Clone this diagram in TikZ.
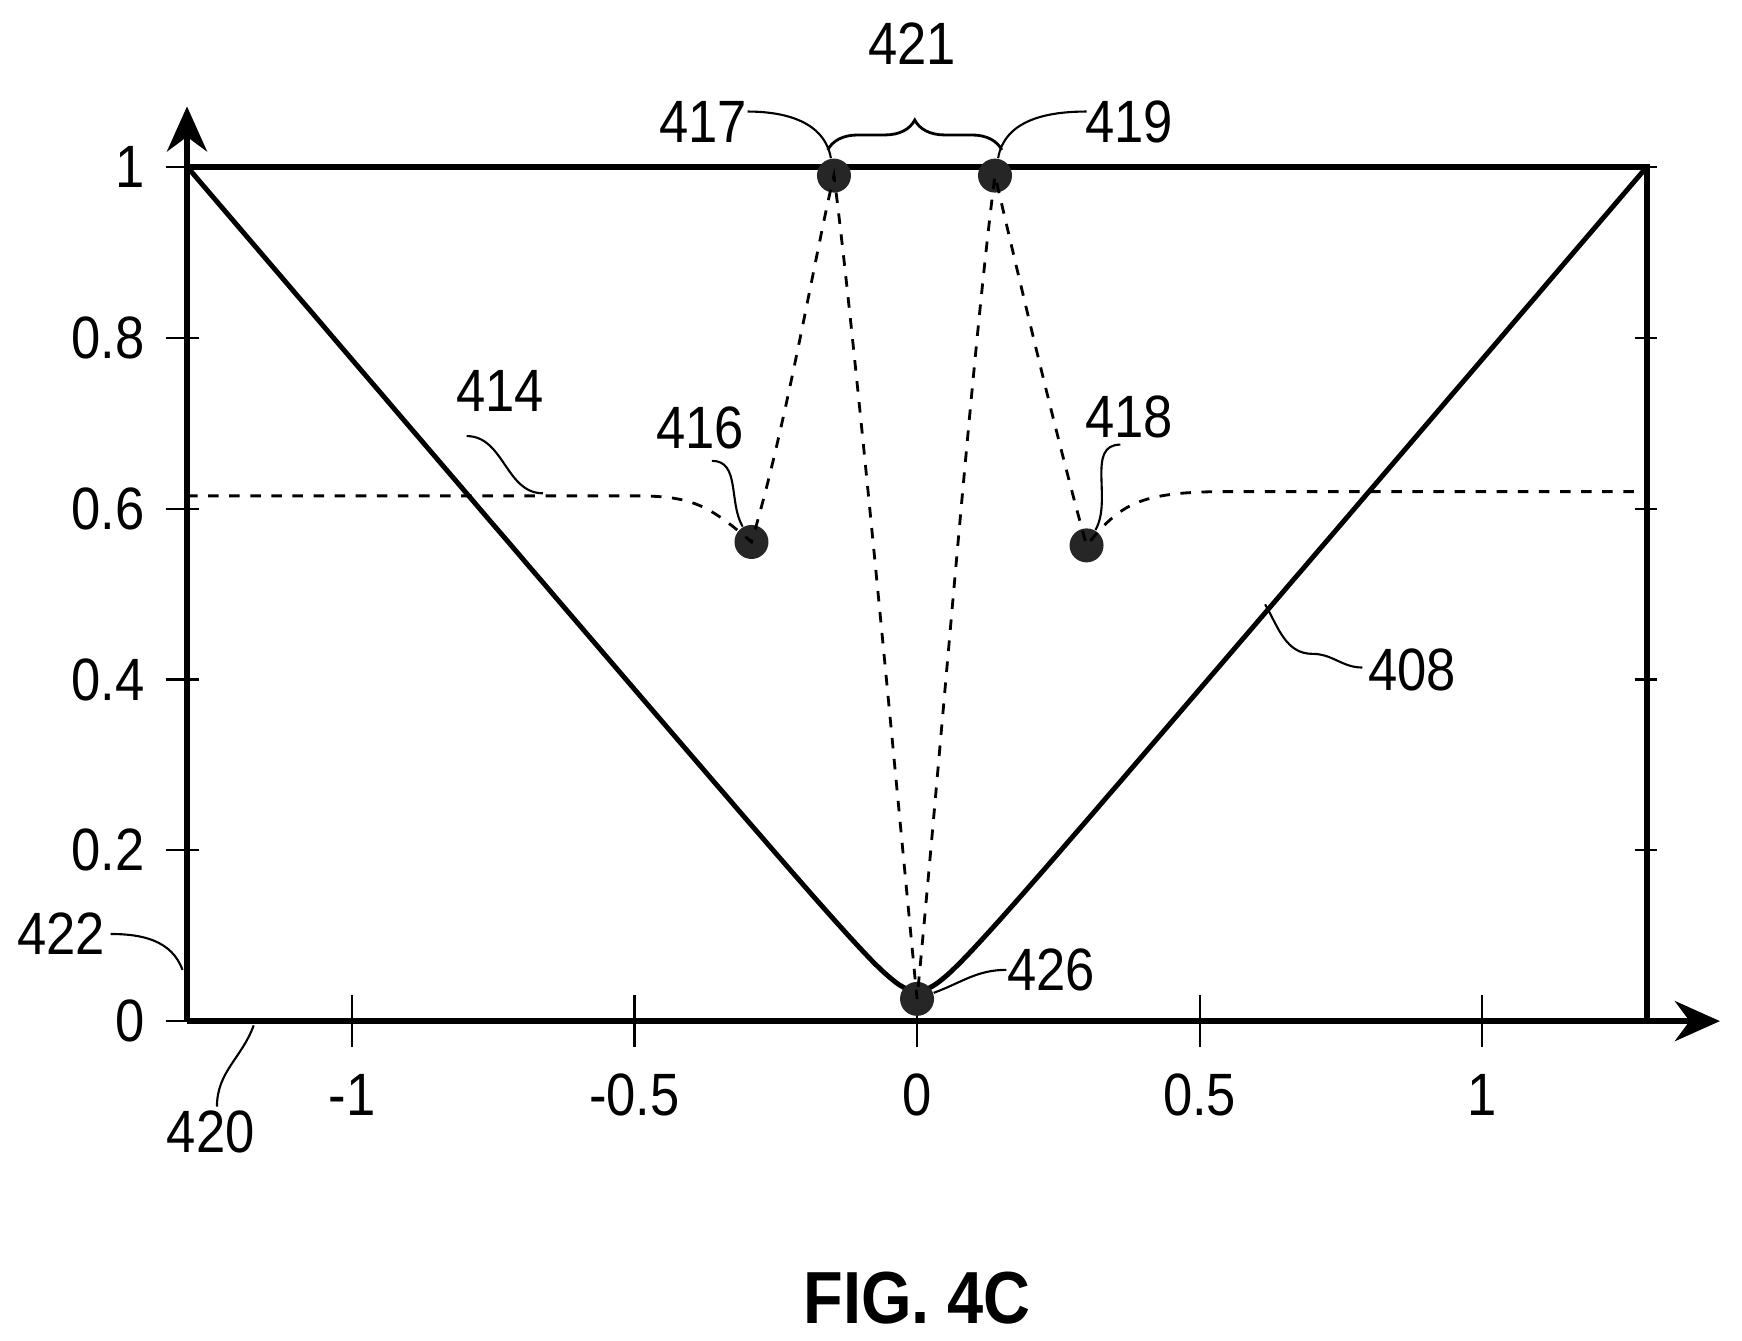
\documentclass[tikz,border=0pt]{standalone}
\usepackage{fontspec}
\setmainfont[FakeStretch=0.88]{Liberation Sans}
\usetikzlibrary{decorations.pathreplacing,arrows.meta}
\begin{document}
\begin{tikzpicture}[x=5.65cm,y=8.54cm,
  lbl/.style={font=\fontsize{17}{20}\selectfont,inner sep=1pt},
  lead/.style={line width=0.6pt},
  axisline/.style={line width=1.7pt},
  dot/.style={circle,fill=black!85,minimum size=0.34cm,inner sep=0pt},
  tk/.style={line width=0.6pt}]
\useasboundingbox (-1.623,-0.3735) rectangle (1.460,1.1956);
% frame and axes
\draw[axisline] (-1.292,1) -- (1.292,1) -- (1.292,0);
\draw[axisline,-{Stealth[length=0.45cm,width=0.4cm]}] (-1.292,0) -- (1.421,0);
\draw[axisline,-{Stealth[length=0.45cm,width=0.4cm]}] (-1.292,0) -- (-1.292,1.071);
% ticks
\foreach \v in {0,0.2,0.4,0.6,0.8,1}{
  \draw[tk] (-1.33,\v) -- (-1.27,\v);
  \draw[tk] (1.27,\v) -- (1.31,\v);
  \node[lbl,anchor=east] (yl\v) at (-1.36,\v) {\v};}
\foreach \v/\t in {-1/-1,-0.5/-0.5,0/0,0.5/0.5,1/1}{
  \draw[tk] (\v,-0.03) -- (\v,0.03);
  \node[lbl] (xl\t) at (\v,-0.087) {\t};}
% curve 408
\draw[line width=1.4pt,smooth,samples=120,domain=-1.292:1.292] plot (\x,{sqrt((\x/1.292)^2+0.035^2)});
% dots
\node[dot] (d416) at (-0.293,0.561) {};
\node[dot] (d417) at (-0.147,0.99) {};
\node[dot] (d419) at (0.138,0.99) {};
\node[dot] (d418) at (0.30,0.557) {};
\node[dot] (d426) at (0,0.026) {};
% dashed 414
\draw[dashed,line width=0.8pt] (-1.292,0.615) -- (-0.5,0.615)
  .. controls (-0.4,0.615) and (-0.37,0.605) .. (d416.center)
  .. controls (-0.23,0.7) and (-0.18,0.9) .. (d417.center)
  .. controls (-0.11,0.8) and (-0.04,0.3) .. (d426.center)
  .. controls (0.04,0.3) and (0.1,0.8) .. (d419.center)
  .. controls (0.17,0.9) and (0.24,0.7) .. (d418.center)
  .. controls (0.36,0.605) and (0.39,0.62) .. (0.55,0.62) -- (1.292,0.62);
% labels
\node[lbl] (l421) at (-0.009,1.144) {421};
\draw[line width=0.8pt,decorate,decoration={brace,amplitude=0.3cm}] (-0.158,1.02) -- (0.15,1.02);
\node[lbl] (l417) at (-0.379,1.053) {417};
\node[lbl] (l419) at (0.375,1.053) {419};
\node[lbl] (l416) at (-0.384,0.694) {416};
\node[lbl] (l418) at (0.375,0.707) {418};
\node[lbl] (l414) at (-0.738,0.738) {414};
\node[lbl] (l408) at (0.876,0.411) {408};
\node[lbl] (l426) at (0.237,0.06) {426};
\node[lbl] (l422) at (-1.515,0.102) {422};
\node[lbl] (l420) at (-1.25,-0.13) {420};
\coordinate (c414) at (-0.662,0.618);
\coordinate (c408) at (0.616,0.488);
\coordinate (c422) at (-1.30,0.06);
\coordinate (c420) at (-1.174,-0.005);
\draw[lead] (-0.30,1.065) to[out=0,in=100] (d417);
\draw[lead] (d419) to[out=80,in=180] (0.30,1.065);
\draw[lead] (-0.363,0.656) to[out=0,in=120] (d416);
\draw[lead] (d418) to[out=60,in=180] (0.36,0.675);
\draw[lead] (-0.797,0.685) to[out=0,in=180] (c414);
\draw[lead] (0.788,0.414) to[out=180,in=0] (0.70,0.43) to[out=180,in=-60] (c408);
\draw[lead] (d426) to[out=20,in=180] (0.158,0.06);
\draw[lead] (-1.427,0.102) to[out=0,in=110] (c422);
\draw[lead] (-1.239,-0.1) to[out=90,in=-110] (c420);
\node[font=\bfseries\fontsize{21}{24}\selectfont] (fig) at (0,-0.324) {FIG. 4C};
\end{tikzpicture}
\end{document}
